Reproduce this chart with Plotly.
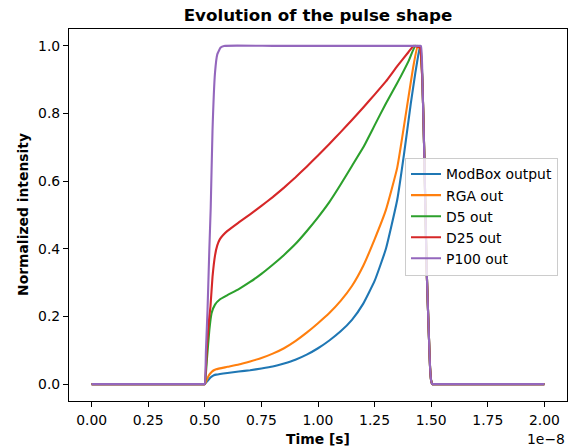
import numpy as np
import plotly.graph_objects as go

# ---- data (time in ns, normalized intensity) ----
base_t = [0.0, 2.5, 4.5, 4.9, 4.97]
base_v = [0.0, 0.0, 0.0, 0.0, 0.0]
fall_t = [14.62, 14.70, 14.80, 14.90, 14.95, 15.00, 15.05, 15.12, 15.5, 17.5, 20.0]
fall_v = [0.88, 0.665, 0.34, 0.14, 0.05, 0.01, 0.0, 0.0, 0.0, 0.0, 0.0]

t_modbox = [5.0, 5.1, 5.2, 5.3, 5.4, 5.5, 6.0, 6.5, 7.0, 7.5, 8.0, 8.5, 9.0, 9.5, 10.0, 10.5,
            11.0, 11.5, 12.0, 12.5, 13.0, 13.5, 13.8, 14.1, 14.3, 14.45, 14.52]
v_modbox = [0.0, 0.008, 0.016, 0.022, 0.026, 0.028, 0.033, 0.037, 0.041, 0.046, 0.052, 0.061,
            0.072, 0.087, 0.106, 0.129, 0.156, 0.190, 0.238, 0.305, 0.400, 0.545, 0.680, 0.830,
            0.920, 0.980, 1.0]

t_rga = [5.0, 5.1, 5.2, 5.3, 5.4, 5.5, 6.0, 6.5, 7.0, 7.5, 8.0, 8.5, 9.0, 9.5, 10.0, 10.5, 11.0,
         11.5, 12.0, 12.5, 13.0, 13.5, 14.0, 14.2, 14.4, 14.52]
v_rga = [0.0, 0.015, 0.028, 0.036, 0.041, 0.044, 0.051, 0.058, 0.067, 0.077, 0.090, 0.106, 0.127,
         0.152, 0.180, 0.210, 0.246, 0.290, 0.350, 0.428, 0.515, 0.640, 0.850, 0.935, 1.0, 0.99]

t_d5 = [5.0, 5.1, 5.2, 5.3, 5.45, 5.66, 6.0, 6.5, 7.0, 7.5, 8.0, 8.5, 9.0, 9.5, 10.0, 10.5, 11.0,
        11.5, 12.0, 12.5, 13.0, 13.5, 14.0, 14.3, 14.52]
v_d5 = [0.0, 0.08, 0.16, 0.21, 0.235, 0.250, 0.263, 0.281, 0.302, 0.326, 0.353, 0.382, 0.414,
        0.452, 0.493, 0.538, 0.590, 0.645, 0.700, 0.765, 0.830, 0.890, 0.955, 1.0, 0.995]

t_d25 = [5.0, 5.1, 5.2, 5.25, 5.34, 5.45, 5.55, 5.66, 5.8, 6.0, 6.5, 7.0, 7.5, 8.0, 8.5, 9.0, 9.5,
         10.0, 10.5, 11.0, 11.5, 12.0, 12.5, 13.0, 13.5, 14.0, 14.22, 14.5]
v_d25 = [0.0, 0.12, 0.20, 0.23, 0.317, 0.38, 0.41, 0.428, 0.44, 0.453, 0.478, 0.502, 0.527, 0.553,
         0.581, 0.611, 0.643, 0.676, 0.710, 0.745, 0.781, 0.818, 0.856, 0.895, 0.940, 0.982, 1.0,
         0.995]

t_p100 = [5.0, 5.05, 5.12, 5.2, 5.26, 5.34, 5.45, 5.55, 5.7, 5.85, 8.0, 11.0, 14.45, 14.55]
v_p100 = [0.0, 0.10, 0.22, 0.40, 0.52, 0.75, 0.92, 0.975, 0.995, 1.0, 1.0, 1.0, 1.0, 1.0]

names = ["ModBox output", "RGA out", "D5 out", "D25 out", "P100 out"]
colors = ["#1f77b4", "#ff7f0e", "#2ca02c", "#d62728", "#9467bd"]
series = [(t_modbox, v_modbox), (t_rga, v_rga), (t_d5, v_d5), (t_d25, v_d25), (t_p100, v_p100)]

x_tickvals = [0, 0.25e-8, 0.5e-8, 0.75e-8, 1.0e-8, 1.25e-8, 1.5e-8, 1.75e-8, 2.0e-8]
x_ticktext = ["0.00", "0.25", "0.50", "0.75", "1.00", "1.25", "1.50", "1.75", "2.00"]
y_tickvals = [0, 0.2, 0.4, 0.6, 0.8, 1.0]
y_ticktext = ["0.0", "0.2", "0.4", "0.6", "0.8", "1.0"]

FONT = "DejaVu Sans"
FS = 13.9

fig = go.Figure()
for (t, v), name, c in zip(series, names, colors):
    tt = np.array(base_t + list(t) + fall_t) * 1e-9
    vv = np.array(base_v + list(v) + fall_v)
    fig.add_trace(go.Scatter(x=tt, y=vv, mode="lines", name=name,
                             line=dict(color=c, width=2.1, shape="spline", smoothing=0.4)))

axis_common = dict(showline=True, mirror=True, linecolor="black", linewidth=1.1,
                   ticks="outside", ticklen=5, tickwidth=1.1, tickcolor="black",
                   showgrid=False, zeroline=False,
                   tickfont=dict(family=FONT, size=FS, color="black"))

fig.update_layout(
    width=581, height=446,
    margin=dict(l=69, r=14, t=29, b=45),
    paper_bgcolor="white", plot_bgcolor="white",
    font=dict(family=FONT, size=FS, color="black"),
    title=dict(text="<b>Evolution of the pulse shape</b>", x=0.5, xref="paper",
               y=1 - 15 / 446, yanchor="middle", xanchor="center",
               font=dict(family=FONT, size=16.7, color="black")),
    xaxis=dict(range=[-0.1e-8, 2.1e-8], tickvals=x_tickvals, ticktext=x_ticktext,
               ticklabelstandoff=1, **axis_common),
    yaxis=dict(range=[-0.05, 1.05], tickvals=y_tickvals, ticktext=y_ticktext, **axis_common),
    showlegend=True,
    legend=dict(x=0.6747, y=0.6438 + 4 / 372, xanchor="left", yanchor="top",
                bgcolor="rgba(255,255,255,0.8)", bordercolor="#cccccc", borderwidth=1,
                font=dict(family=FONT, size=FS, color="black"),
                itemwidth=30, tracegroupgap=0),
    annotations=[
        dict(text="<b>Time [s]</b>", xref="paper", yref="paper", x=0.5, y=-(439 - 401) / 372,
             xanchor="center", yanchor="middle", showarrow=False,
             font=dict(family=FONT, size=FS, color="black")),
        dict(text="1e\u22128", xref="paper", yref="paper", x=1.0, y=-(439 - 401) / 372,
             xanchor="right", yanchor="middle", showarrow=False,
             font=dict(family=FONT, size=FS, color="black")),
        dict(text="<b>Normalized intensity</b>", xref="paper", yref="paper",
             x=(23 - 69) / 498, y=0.5, xanchor="center", yanchor="middle",
             textangle=-90, showarrow=False,
             font=dict(family=FONT, size=FS, color="black")),
    ],
)

fig.write_html("out.html")
